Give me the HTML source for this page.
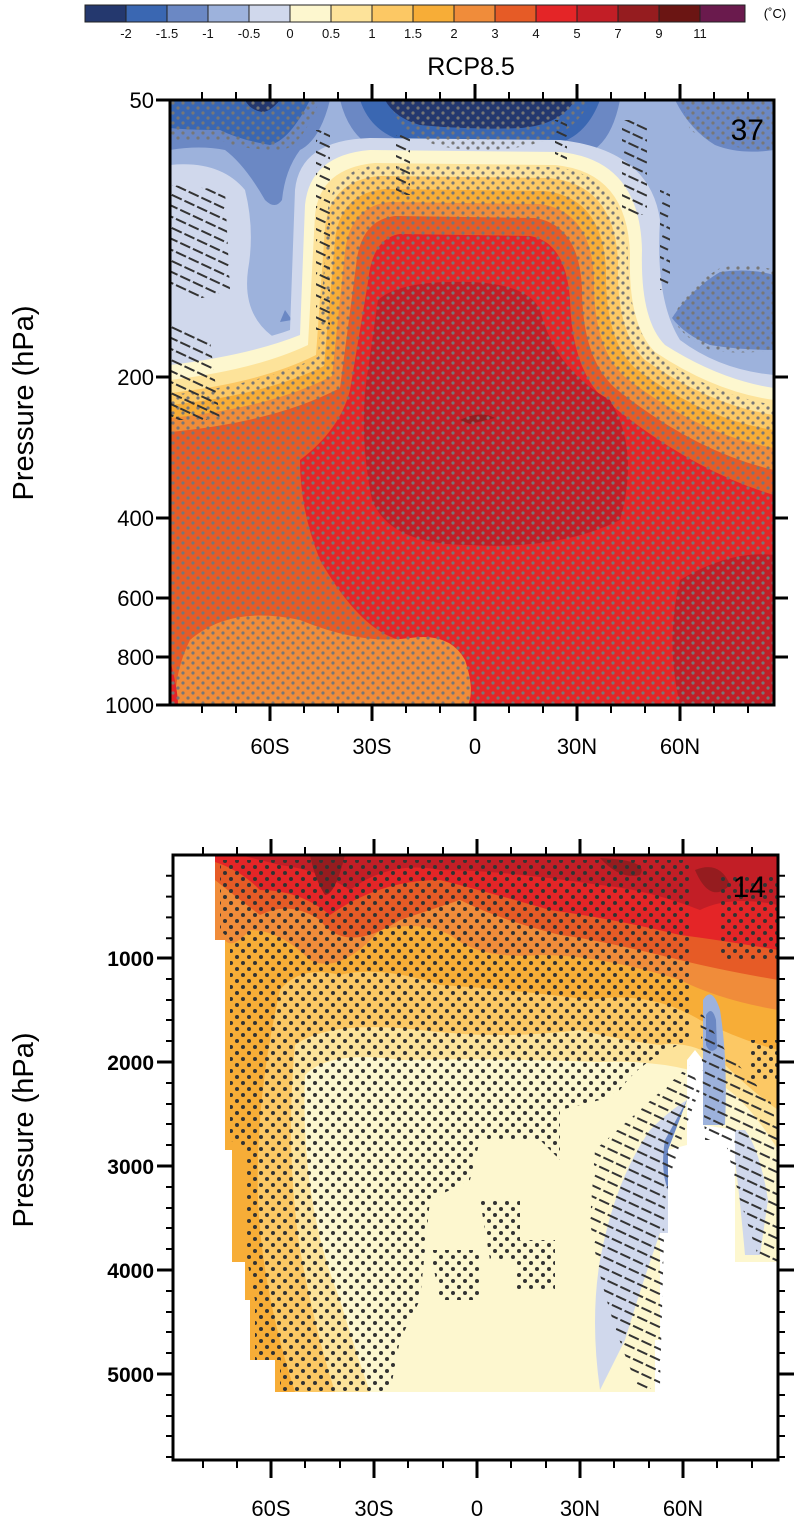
<!DOCTYPE html>
<html><head><meta charset="utf-8"><style>
html,body{margin:0;padding:0;background:#fff;}
svg{display:block;font-family:"Liberation Sans",Arial,sans-serif;}
</style></head><body>
<svg width="801" height="1536" viewBox="0 0 801 1536" xmlns="http://www.w3.org/2000/svg">
<defs>
<pattern id="dots" width="10" height="10" patternUnits="userSpaceOnUse">
<circle cx="3" cy="3" r="1.6" fill="#777"/><circle cx="8" cy="8" r="1.6" fill="#777"/>
</pattern>
<pattern id="dots2" width="12" height="12" patternUnits="userSpaceOnUse">
<circle cx="3" cy="3" r="2" fill="#333"/><circle cx="9" cy="9" r="2" fill="#333"/>
</pattern>
<pattern id="hatch" width="14" height="10" patternUnits="userSpaceOnUse" patternTransform="rotate(25)">
<line x1="0" y1="4" x2="11" y2="4" stroke="#333" stroke-width="2"/>
</pattern>
<clipPath id="c1"><rect x="170" y="100" width="604" height="605"/></clipPath>
<clipPath id="c2"><rect x="173" y="855" width="605" height="605"/></clipPath>
</defs>

<!-- colorbar -->
<g stroke="#222" stroke-width="1">
<rect x="85" y="5" width="41" height="17" fill="#24386e"/>
<rect x="126" y="5" width="41" height="17" fill="#3a67b2"/>
<rect x="167" y="5" width="41" height="17" fill="#6b88c4"/>
<rect x="208" y="5" width="41" height="17" fill="#9db2dc"/>
<rect x="249" y="5" width="41" height="17" fill="#d0d8ec"/>
<rect x="290" y="5" width="41" height="17" fill="#fdf7cf"/>
<rect x="331" y="5" width="41" height="17" fill="#fde39a"/>
<rect x="372" y="5" width="41" height="17" fill="#fcc864"/>
<rect x="413" y="5" width="41" height="17" fill="#f7ad37"/>
<rect x="454" y="5" width="41" height="17" fill="#f08c3a"/>
<rect x="495" y="5" width="41" height="17" fill="#e65b26"/>
<rect x="536" y="5" width="41" height="17" fill="#e42527"/>
<rect x="577" y="5" width="41" height="17" fill="#c21e26"/>
<rect x="618" y="5" width="41" height="17" fill="#951c1f"/>
<rect x="659" y="5" width="41" height="17" fill="#6b1513"/>
<rect x="700" y="5" width="45" height="17" fill="#6a1a4d"/>
</g>
<g font-size="13" text-anchor="middle" fill="#111">
<text x="126" y="38">-2</text><text x="167" y="38">-1.5</text><text x="208" y="38">-1</text>
<text x="249" y="38">-0.5</text><text x="290" y="38">0</text><text x="331" y="38">0.5</text>
<text x="372" y="38">1</text><text x="413" y="38">1.5</text><text x="454" y="38">2</text>
<text x="495" y="38">3</text><text x="536" y="38">4</text><text x="577" y="38">5</text>
<text x="618" y="38">7</text><text x="659" y="38">9</text><text x="700" y="38">11</text>
</g>
<text x="775" y="18" font-size="13" text-anchor="middle">(˚C)</text>
<text x="471" y="75" font-size="25" text-anchor="middle">RCP8.5</text>

<!-- TOP PANEL -->
<g clip-path="url(#c1)">
<rect x="170" y="100" width="604" height="605" fill="#9db2dc"/>
<!-- left pale -->
<path d="M170 165 Q220 160 245 190 Q255 230 248 270 Q240 330 300 350 L300 420 H170 Z" fill="#d0d8ec"/>
<!-- left top blues -->
<path d="M170 100 H330 Q320 140 300 150 Q285 170 282 200 Q275 210 265 200 Q245 165 225 150 Q200 145 170 150 Z" fill="#6b88c4"/>
<path d="M170 100 H310 Q290 140 270 145 Q240 140 220 130 Q190 130 170 128 Z" fill="#3a67b2"/>
<path d="M245 100 H280 Q270 112 262 112 Q250 110 245 100Z" fill="#24386e"/>
<path d="M285 310 L292 320 L280 322Z" fill="#6b88c4"/>
<!-- centre top blues -->
<path d="M340 100 H620 Q610 150 580 155 Q470 160 380 150 Q350 140 340 100Z" fill="#6b88c4"/>
<path d="M360 100 H600 Q585 140 550 145 Q470 148 400 140 Q370 130 360 100Z" fill="#3a67b2"/>
<path d="M385 100 H575 Q560 125 520 128 Q470 130 420 125 Q395 118 385 100Z" fill="#24386e"/>
<!-- right blues -->
<path d="M675 100 H774 V150 Q740 155 715 145 Q690 130 675 100Z" fill="#6b88c4"/>
<path d="M672 318 Q690 290 720 272 Q750 268 774 275 V350 Q740 350 710 345 Q685 335 672 318Z" fill="#6b88c4"/>
<!-- pale blue around plume -->
<path d="M170 350 Q250 345 290 330 L295 190 Q300 140 370 138 L560 140 Q650 150 660 220 Q655 300 680 340 Q720 370 774 375 V705 H170Z" fill="#d0d8ec"/>
<!-- warm plume bands -->
<path d="M170 365 Q250 355 300 335 L305 205 Q310 155 370 150 L560 152 Q640 160 642 250 Q640 320 665 345 Q720 380 774 388 V705 H170Z" fill="#fdf7cf"/>
<path d="M170 380 Q255 370 308 345 L315 215 Q320 168 375 163 L555 165 Q628 172 630 255 Q628 325 655 352 Q715 392 774 400 V705 H170Z" fill="#fde39a"/>
<path d="M170 393 Q260 383 316 355 L325 228 Q330 180 380 176 L550 178 Q615 185 618 262 Q616 332 645 360 Q710 405 774 415 V705 H170Z" fill="#fcc864"/>
<path d="M170 405 Q265 395 324 366 L335 240 Q340 193 385 189 L545 191 Q603 198 606 270 Q605 340 635 368 Q705 420 774 430 V705 H170Z" fill="#f7ad37"/>
<path d="M170 418 Q270 408 332 376 L345 252 Q350 206 390 202 L540 204 Q591 211 594 278 Q593 348 625 377 Q700 435 774 448 V705 H170Z" fill="#f08c3a"/>
<path d="M170 432 Q275 422 340 388 L356 266 Q360 220 395 216 L535 218 Q579 225 582 288 Q582 358 615 388 Q695 452 774 470 V705 H170Z" fill="#e65b26"/>
<path d="M300 460 Q340 430 350 390 L368 282 Q372 238 400 234 L530 236 Q566 242 570 300 Q572 370 605 400 Q690 470 774 495 V705 H460 Q440 640 400 640 Q360 630 320 560 Q300 510 300 460Z" fill="#e42527"/>
<path d="M378 300 Q400 280 470 282 Q528 284 540 310 Q555 370 610 400 Q640 450 620 520 Q560 550 470 545 Q390 545 372 500 Q358 430 368 370 Z" fill="#c21e26"/>
<path d="M460 420 Q480 410 495 418 L470 424Z" fill="#951c1f"/>
<path d="M680 580 Q730 550 774 555 V705 H680 Q665 640 680 580Z" fill="#c21e26"/>
<path d="M190 640 Q230 605 300 620 Q360 645 410 638 Q450 632 465 660 Q475 690 468 705 H175 Q175 670 190 640Z" fill="#f08c3a"/>
<path d="M170 660 Q178 690 178 705 H170Z" fill="#e42527"/>
<!-- dots -->
<path d="M170 395 Q260 385 318 357 L328 208 Q335 168 380 165 L555 167 Q625 175 628 255 Q628 330 660 358 Q715 395 774 405 V705 H170Z" fill="url(#dots)"/>
<path d="M170 100 H320 Q300 150 280 150 Q240 150 220 140 Q190 140 170 140 Z" fill="url(#dots)"/>
<path d="M390 100 H590 Q570 150 480 150 Q400 150 390 100Z" fill="url(#dots)"/>
<path d="M680 100 H774 V150 Q720 150 690 130Z" fill="url(#dots)"/>
<path d="M672 318 Q690 285 720 268 Q750 262 774 270 V350 Q740 355 710 350 Q685 340 672 318Z" fill="url(#dots)"/>
<!-- hatching -->
<path d="M170 185 L225 190 L230 290 L195 300 L170 290Z" fill="url(#hatch)"/>
<path d="M170 320 L210 340 L220 420 L170 420Z" fill="url(#hatch)"/>
<rect x="316" y="130" width="14" height="200" fill="url(#hatch)"/>
<rect x="396" y="135" width="14" height="60" fill="url(#hatch)"/>
<rect x="555" y="120" width="12" height="40" fill="url(#hatch)"/>
<rect x="622" y="120" width="25" height="95" fill="url(#hatch)"/>
<rect x="660" y="190" width="10" height="100" fill="url(#hatch)"/>
</g>
<rect x="170" y="100" width="604" height="605" fill="none" stroke="#000" stroke-width="3"/>
<text x="764" y="140" font-size="30" text-anchor="end">37</text>
<g stroke="#000" stroke-width="3">
<line x1="270" y1="100" x2="270" y2="84"/><line x1="372" y1="100" x2="372" y2="84"/><line x1="475" y1="100" x2="475" y2="84"/><line x1="577" y1="100" x2="577" y2="84"/><line x1="680" y1="100" x2="680" y2="84"/>
<line x1="270" y1="705" x2="270" y2="721"/><line x1="372" y1="705" x2="372" y2="721"/><line x1="475" y1="705" x2="475" y2="721"/><line x1="577" y1="705" x2="577" y2="721"/><line x1="680" y1="705" x2="680" y2="721"/>
<line x1="156" y1="100" x2="170" y2="100"/><line x1="156" y1="377" x2="170" y2="377"/><line x1="156" y1="518" x2="170" y2="518"/><line x1="156" y1="598" x2="170" y2="598"/><line x1="156" y1="657" x2="170" y2="657"/><line x1="156" y1="705" x2="170" y2="705"/>
<line x1="774" y1="377" x2="788" y2="377"/><line x1="774" y1="518" x2="788" y2="518"/><line x1="774" y1="598" x2="788" y2="598"/><line x1="774" y1="657" x2="788" y2="657"/>
</g>
<g stroke="#000" stroke-width="2">
<line x1="202" y1="100" x2="202" y2="92"/><line x1="236" y1="100" x2="236" y2="92"/><line x1="304" y1="100" x2="304" y2="92"/><line x1="338" y1="100" x2="338" y2="92"/><line x1="406" y1="100" x2="406" y2="92"/><line x1="440" y1="100" x2="440" y2="92"/><line x1="509" y1="100" x2="509" y2="92"/><line x1="543" y1="100" x2="543" y2="92"/><line x1="611" y1="100" x2="611" y2="92"/><line x1="645" y1="100" x2="645" y2="92"/><line x1="714" y1="100" x2="714" y2="92"/><line x1="748" y1="100" x2="748" y2="92"/>
<line x1="202" y1="705" x2="202" y2="713"/><line x1="236" y1="705" x2="236" y2="713"/><line x1="304" y1="705" x2="304" y2="713"/><line x1="338" y1="705" x2="338" y2="713"/><line x1="406" y1="705" x2="406" y2="713"/><line x1="440" y1="705" x2="440" y2="713"/><line x1="509" y1="705" x2="509" y2="713"/><line x1="543" y1="705" x2="543" y2="713"/><line x1="611" y1="705" x2="611" y2="713"/><line x1="645" y1="705" x2="645" y2="713"/><line x1="714" y1="705" x2="714" y2="713"/><line x1="748" y1="705" x2="748" y2="713"/>
</g>
<g font-size="22" text-anchor="end">
<text x="154" y="108">50</text><text x="154" y="385">200</text><text x="154" y="526">400</text>
<text x="154" y="606">600</text><text x="154" y="665">800</text><text x="154" y="713">1000</text>
</g>
<g font-size="22" text-anchor="middle">
<text x="270" y="754">60S</text><text x="372" y="754">30S</text><text x="475" y="754">0</text><text x="577" y="754">30N</text><text x="680" y="754">60N</text>
</g>
<text transform="translate(33,403) rotate(-90)" font-size="29" text-anchor="middle">Pressure (hPa)</text>

<!-- BOTTOM PANEL -->
<g clip-path="url(#c2)">
<!-- base pale yellow over colored domain -->
<path d="M215 855 H778 V1262 H735 V1150 H703 V1233 H660 V1340 H655 V1392 H275 V1360 H250 V1300 H245 V1262 H232 V1150 H225 V940 H215 Z" fill="#fdf7cf"/>
<path d="M215 855 H778 V1150 Q760 1120 740 1100 Q720 1080 690 1070 Q650 1060 600 1062 Q500 1058 400 1060 Q330 1050 305 1075 Q300 1200 340 1300 Q355 1350 370 1392 H275 V1360 H250 V1300 H245 V1262 H232 V1150 H225 V940 H215 Z" fill="#fde39a"/>
<path d="M215 855 H778 V1110 Q750 1090 720 1060 Q690 1040 660 1045 Q620 1040 580 1030 Q500 1040 420 1030 Q330 1020 295 1045 Q285 1150 300 1250 Q315 1330 335 1392 H275 V1360 H250 V1300 H245 V1262 H232 V1150 H225 V940 H215 Z" fill="#fcc864"/>
<path d="M215 855 H778 V1050 Q740 1040 700 1020 Q650 990 590 1000 Q520 990 440 985 Q380 965 340 975 Q300 965 280 990 Q255 1100 258 1200 Q262 1290 295 1392 H275 V1360 H250 V1300 H245 V1262 H232 V1150 H225 V940 H215 Z" fill="#f7ad37"/>
<path d="M215 855 H778 V1010 Q720 1000 680 980 Q600 955 540 955 Q480 960 450 935 Q420 920 380 930 Q340 975 310 960 Q280 930 250 930 Q232 950 225 940 H215 Z" fill="#f08c3a"/>
<path d="M215 855 H778 V980 Q720 970 680 960 Q600 940 560 935 Q500 920 460 900 Q430 910 400 920 Q345 955 320 920 Q290 900 260 915 Q240 900 215 880 Z" fill="#e65b26"/>
<path d="M215 855 H778 V950 Q720 940 680 935 Q620 920 550 910 Q480 890 440 880 Q380 880 330 915 Q300 890 260 890 Q240 870 215 862 Z" fill="#e42527"/>
<path d="M240 855 H778 V905 Q730 895 700 910 Q650 890 600 885 Q500 870 440 870 Q390 860 350 890 Q320 870 280 865 Z" fill="#c21e26"/>
<path d="M310 855 H345 Q335 895 325 895 Q315 880 310 855Z M600 858 Q620 880 640 875 Q650 860 600 858Z M695 870 Q710 905 730 885 Q720 860 695 870Z" fill="#951c1f"/>
<!-- white gap -->
<path d="M687 1060 L695 1050 L703 1060 V1125 L735 1130 V1460 H660 V1233 H668 V1150 L687 1145 Z" fill="#fff"/>
<path d="M735 1262 H778 V1460 H735Z" fill="#fff"/>
<!-- blues -->
<path d="M703 1000 Q712 985 720 1010 Q728 1060 725 1125 H703 Z" fill="#9db2dc"/>
<path d="M706 1015 Q712 1005 716 1020 L717 1048 Q710 1055 706 1045Z" fill="#6b88c4"/>
<path d="M687 1100 L668 1150 V1233 H660 Q640 1290 625 1340 L600 1390 Q590 1320 600 1260 Q615 1180 650 1130 Q670 1110 687 1100Z" fill="#d0d8ec"/>
<path d="M687 1100 L668 1150 V1190 Q660 1170 665 1140Z" fill="#6b88c4"/>
<path d="M735 1130 H745 Q760 1150 768 1200 L760 1255 H745 Q740 1200 735 1160Z" fill="#d0d8ec"/>
<!-- dots -->
<path d="M220 860 H690 V1040 Q640 1060 620 1090 L600 1100 L560 1110 V1160 L540 1140 H480 L470 1180 L430 1200 L420 1300 L400 1340 L390 1392 H280 V1360 L255 1360 V1300 L245 1250 V1150 L230 1140 V940 L220 930 Z" fill="url(#dots2)"/>
<path d="M720 875 H778 V960 H720 Z M750 1040 H778 V1080 H750Z" fill="url(#dots2)"/>
<path d="M480 1200 H520 V1260 H490Z M515 1240 H555 V1290 H515Z M430 1250 H480 V1300 H440Z" fill="url(#dots2)"/>
<!-- hatching -->
<path d="M595 1150 Q640 1110 690 1065 L700 1090 Q675 1150 665 1200 L660 1385 L640 1392 Q600 1300 590 1220Z" fill="url(#hatch)"/>
<path d="M700 1010 L725 1050 L770 1100 L778 1130 V1262 H760 L740 1200 L725 1140 H705Z" fill="url(#hatch)"/>
</g>
<rect x="173" y="855" width="605" height="605" fill="none" stroke="#000" stroke-width="3"/>
<text x="766" y="897" font-size="30" text-anchor="end">14</text>
<g stroke="#000" stroke-width="3">
<line x1="271" y1="855" x2="271" y2="839"/><line x1="374" y1="855" x2="374" y2="839"/><line x1="477" y1="855" x2="477" y2="839"/><line x1="580" y1="855" x2="580" y2="839"/><line x1="683" y1="855" x2="683" y2="839"/>
<line x1="271" y1="1460" x2="271" y2="1478"/><line x1="374" y1="1460" x2="374" y2="1478"/><line x1="477" y1="1460" x2="477" y2="1478"/><line x1="580" y1="1460" x2="580" y2="1478"/><line x1="683" y1="1460" x2="683" y2="1478"/>
<line x1="173" y1="958" x2="157" y2="958"/><line x1="173" y1="1062" x2="157" y2="1062"/><line x1="173" y1="1166" x2="157" y2="1166"/><line x1="173" y1="1270" x2="157" y2="1270"/><line x1="173" y1="1374" x2="157" y2="1374"/>
<line x1="778" y1="958" x2="794" y2="958"/><line x1="778" y1="1062" x2="794" y2="1062"/><line x1="778" y1="1166" x2="794" y2="1166"/><line x1="778" y1="1270" x2="794" y2="1270"/><line x1="778" y1="1374" x2="794" y2="1374"/>
</g>
<g stroke="#000" stroke-width="2">
<line x1="203" y1="855" x2="203" y2="847"/><line x1="237" y1="855" x2="237" y2="847"/><line x1="305" y1="855" x2="305" y2="847"/><line x1="340" y1="855" x2="340" y2="847"/><line x1="408" y1="855" x2="408" y2="847"/><line x1="443" y1="855" x2="443" y2="847"/><line x1="511" y1="855" x2="511" y2="847"/><line x1="546" y1="855" x2="546" y2="847"/><line x1="614" y1="855" x2="614" y2="847"/><line x1="649" y1="855" x2="649" y2="847"/><line x1="717" y1="855" x2="717" y2="847"/><line x1="752" y1="855" x2="752" y2="847"/>
<line x1="203" y1="1460" x2="203" y2="1468"/><line x1="237" y1="1460" x2="237" y2="1468"/><line x1="305" y1="1460" x2="305" y2="1468"/><line x1="340" y1="1460" x2="340" y2="1468"/><line x1="408" y1="1460" x2="408" y2="1468"/><line x1="443" y1="1460" x2="443" y2="1468"/><line x1="511" y1="1460" x2="511" y2="1468"/><line x1="546" y1="1460" x2="546" y2="1468"/><line x1="614" y1="1460" x2="614" y2="1468"/><line x1="649" y1="1460" x2="649" y2="1468"/><line x1="717" y1="1460" x2="717" y2="1468"/><line x1="752" y1="1460" x2="752" y2="1468"/>
<path d="M173 875.8h-7M173 896.6h-7M173 917.4h-7M173 938.2h-7M173 979h-7M173 1000h-7M173 1020h-7M173 1041h-7M173 1083h-7M173 1104h-7M173 1124h-7M173 1145h-7M173 1187h-7M173 1208h-7M173 1228h-7M173 1249h-7M173 1291h-7M173 1312h-7M173 1332h-7M173 1353h-7M173 1395h-7M173 1416h-7M173 1436h-7M173 1457h-7"/>
<path d="M778 875.8h7M778 896.6h7M778 917.4h7M778 938.2h7M778 979h7M778 1000h7M778 1020h7M778 1041h7M778 1083h7M778 1104h7M778 1124h7M778 1145h7M778 1187h7M778 1208h7M778 1228h7M778 1249h7M778 1291h7M778 1312h7M778 1332h7M778 1353h7M778 1395h7M778 1416h7M778 1436h7M778 1457h7"/>
</g>
<g font-size="21" text-anchor="end" font-weight="bold">
<text x="154" y="966">1000</text><text x="154" y="1070">2000</text><text x="154" y="1174">3000</text>
<text x="154" y="1278">4000</text><text x="154" y="1382">5000</text>
</g>
<g font-size="22" text-anchor="middle">
<text x="271" y="1516">60S</text><text x="374" y="1516">30S</text><text x="477" y="1516">0</text><text x="580" y="1516">30N</text><text x="683" y="1516">60N</text>
</g>
<text transform="translate(33,1130) rotate(-90)" font-size="29" text-anchor="middle">Pressure (hPa)</text>
</svg>
</body></html>
